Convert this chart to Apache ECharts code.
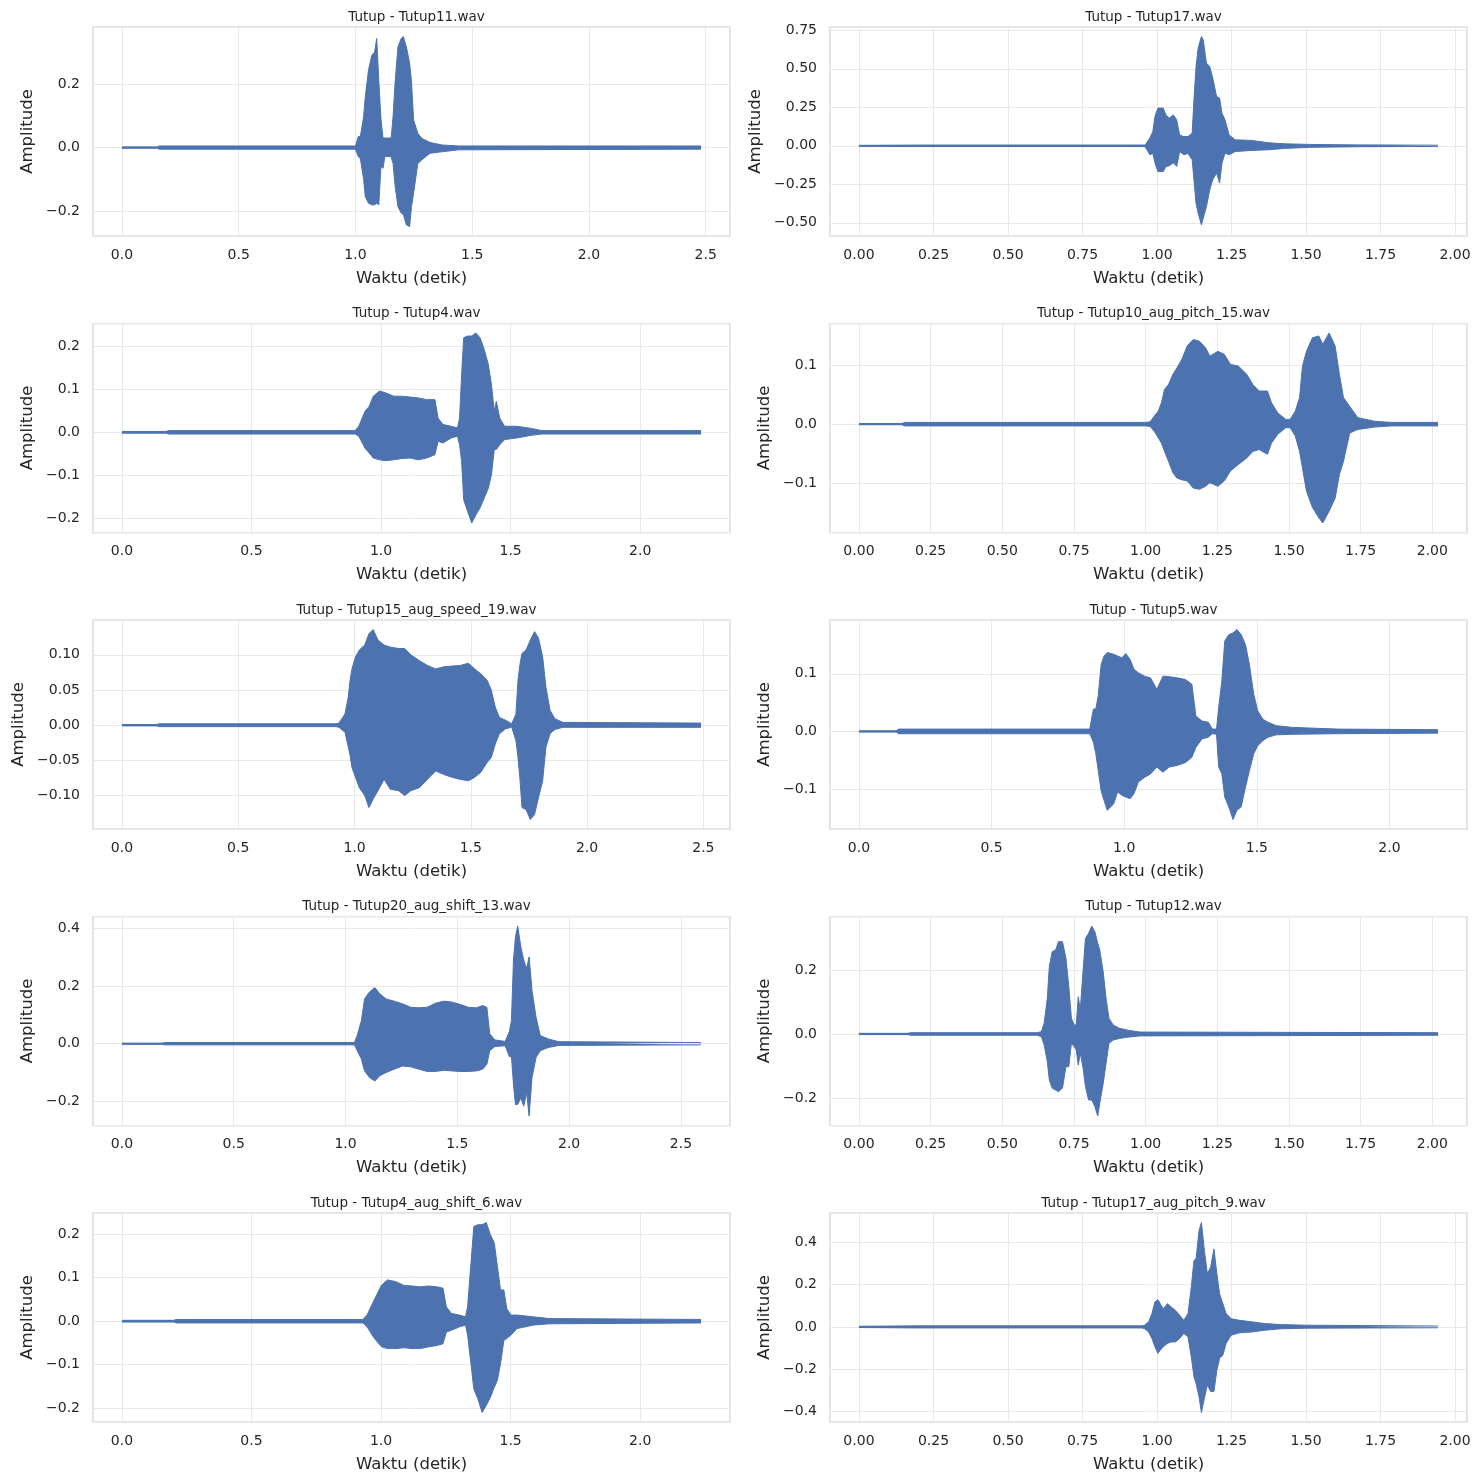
<!DOCTYPE html>
<html>
<head>
<meta charset="utf-8">
<script src="https://cdn.jsdelivr.net/npm/echarts@6/dist/echarts.min.js"></script>
<style>
html, body { margin: 0; padding: 0; background: #ffffff; }
#main { width: 1481px; height: 1483px; }
</style>
</head>
<body>
<div id="main"></div>
<script>
/* Tutup - bentuk gelombang 10 file (selubung atas / bawah) */

var fileNames = ['Tutup11.wav', 'Tutup17.wav', 'Tutup4.wav', 'Tutup10_aug_pitch_15.wav', 'Tutup15_aug_speed_19.wav',
	'Tutup5.wav', 'Tutup20_aug_shift_13.wav', 'Tutup12.wav', 'Tutup4_aug_shift_6.wav', 'Tutup17_aug_pitch_9.wav'];
var xTickSteps = [0.5, 0.25, 0.5, 0.25, 0.5, 0.5, 0.5, 0.25, 0.5, 0.25];
var yTickSteps = [0.2, 0.25, 0.1, 0.1, 0.05, 0.1, 0.2, 0.2, 0.1, 0.2];

// Tutup11.wav
var t_tutup11 = [0, 0.15, 0.16, 1.00, 1.012, 1.021, 1.035, 1.042, 1.056, 1.070, 1.082, 1.091, 1.100, 1.109, 1.118, 1.126, 1.144, 1.153, 1.161, 1.170, 1.182, 1.196, 1.205, 1.218, 1.232, 1.240, 1.249, 1.267, 1.284, 1.319, 1.372, 1.442, 2.48];
var hi_tutup11 = [0.002, 0.002, 0.005, 0.005, 0.035, 0.035, 0.097, 0.16, 0.244, 0.29, 0.30, 0.343, 0.21, 0.092, 0.03, 0.03, 0.03, 0.03, 0.097, 0.207, 0.317, 0.343, 0.349, 0.317, 0.265, 0.207, 0.087, 0.045, 0.029, 0.016, 0.008, 0.005, 0.005];
var lo_tutup11 = [-0.002, -0.002, -0.005, -0.005, -0.028, -0.035, -0.10, -0.154, -0.175, -0.18, -0.18, -0.175, -0.18, -0.06, -0.065, -0.028, -0.028, -0.03, -0.05, -0.122, -0.185, -0.206, -0.21, -0.243, -0.248, -0.185, -0.143, -0.05, -0.039, -0.018, -0.013, -0.007, -0.005];

// Tutup17.wav
var t_tutup17 = [0, 0.20, 0.96, 0.976, 0.986, 0.993, 1.003, 1.021, 1.030, 1.041, 1.055, 1.066, 1.076, 1.090, 1.104, 1.118, 1.124, 1.131, 1.138, 1.149, 1.155, 1.166, 1.177, 1.187, 1.200, 1.210, 1.218, 1.228, 1.242, 1.263, 1.318, 1.373, 1.429, 1.512, 1.678, 1.943];
var hi_tutup17 = [0.003, 0.005, 0.005, 0.05, 0.093, 0.19, 0.245, 0.245, 0.20, 0.18, 0.20, 0.17, 0.07, 0.06, 0.06, 0.082, 0.30, 0.515, 0.634, 0.71, 0.688, 0.537, 0.515, 0.44, 0.32, 0.31, 0.212, 0.17, 0.07, 0.039, 0.035, 0.02, 0.013, 0.009, 0.006, 0.004];
var lo_tutup17 = [-0.003, -0.005, -0.005, -0.058, -0.05, -0.11, -0.167, -0.167, -0.134, -0.13, -0.11, -0.134, -0.037, -0.058, -0.05, -0.09, -0.22, -0.372, -0.437, -0.513, -0.524, -0.394, -0.286, -0.22, -0.177, -0.242, -0.113, -0.048, -0.058, -0.037, -0.03, -0.026, -0.017, -0.01, -0.006, -0.004];

// Tutup4.wav
var t_tutup4 = [0, 0.17, 0.18, 0.90, 0.914, 0.938, 0.954, 0.970, 0.994, 1.017, 1.049, 1.081, 1.113, 1.144, 1.176, 1.208, 1.220, 1.239, 1.271, 1.295, 1.303, 1.311, 1.319, 1.334, 1.350, 1.366, 1.382, 1.398, 1.414, 1.426, 1.437, 1.445, 1.458, 1.477, 1.525, 1.580, 1.620, 2.235];
var hi_tutup4 = [0.002, 0.002, 0.004, 0.004, 0.014, 0.049, 0.06, 0.084, 0.096, 0.092, 0.084, 0.084, 0.082, 0.08, 0.076, 0.076, 0.033, 0.018, 0.014, 0.01, 0.033, 0.134, 0.22, 0.224, 0.224, 0.231, 0.22, 0.193, 0.158, 0.111, 0.049, 0.072, 0.033, 0.014, 0.014, 0.009, 0.004, 0.004];
var lo_tutup4 = [-0.002, -0.002, -0.004, -0.004, -0.009, -0.037, -0.048, -0.06, -0.064, -0.066, -0.064, -0.061, -0.06, -0.064, -0.06, -0.052, -0.021, -0.025, -0.013, -0.009, -0.029, -0.068, -0.157, -0.184, -0.211, -0.192, -0.176, -0.153, -0.13, -0.099, -0.04, -0.04, -0.029, -0.017, -0.013, -0.007, -0.004, -0.004];

// Tutup10_aug_pitch_15.wav
var t_tutup10p = [0, 0.15, 0.16, 1.00, 1.016, 1.030, 1.044, 1.055, 1.066, 1.080, 1.095, 1.109, 1.126, 1.145, 1.166, 1.188, 1.209, 1.224, 1.252, 1.274, 1.296, 1.324, 1.353, 1.374, 1.396, 1.425, 1.439, 1.461, 1.489, 1.504, 1.522, 1.537, 1.547, 1.561, 1.582, 1.604, 1.618, 1.640, 1.661, 1.676, 1.690, 1.712, 1.740, 1.798, 1.855, 2.02];
var hi_tutup10p = [0.001, 0.001, 0.003, 0.003, 0.004, 0.0135, 0.022, 0.036, 0.059, 0.067, 0.084, 0.095, 0.109, 0.132, 0.143, 0.14, 0.129, 0.115, 0.123, 0.118, 0.101, 0.098, 0.084, 0.067, 0.056, 0.056, 0.036, 0.019, 0.008, 0.008, 0.022, 0.045, 0.098, 0.123, 0.146, 0.149, 0.135, 0.154, 0.132, 0.084, 0.045, 0.03, 0.011, 0.005, 0.003, 0.003];
var lo_tutup10p = [-0.001, -0.001, -0.003, -0.003, -0.004, -0.012, -0.023, -0.032, -0.046, -0.063, -0.082, -0.091, -0.094, -0.096, -0.108, -0.11, -0.105, -0.099, -0.105, -0.096, -0.079, -0.068, -0.057, -0.046, -0.043, -0.051, -0.032, -0.017, -0.006, -0.006, -0.02, -0.046, -0.074, -0.113, -0.141, -0.158, -0.167, -0.147, -0.125, -0.085, -0.063, -0.015, -0.009, -0.005, -0.003, -0.003];

// Tutup15_aug_speed_19.wav
var t_tutup15s = [0, 0.15, 0.16, 0.92, 0.933, 0.959, 0.973, 0.981, 0.989, 1.004, 1.021, 1.044, 1.062, 1.080, 1.101, 1.127, 1.154, 1.189, 1.216, 1.242, 1.278, 1.313, 1.349, 1.384, 1.419, 1.455, 1.490, 1.517, 1.543, 1.570, 1.588, 1.605, 1.623, 1.650, 1.676, 1.694, 1.703, 1.712, 1.720, 1.738, 1.756, 1.774, 1.791, 1.809, 1.823, 1.841, 1.862, 1.897, 2.49];
var hi_tutup15s = [0.001, 0.001, 0.002, 0.002, 0.003, 0.016, 0.04, 0.064, 0.08, 0.097, 0.107, 0.114, 0.13, 0.136, 0.121, 0.114, 0.111, 0.109, 0.109, 0.1, 0.092, 0.085, 0.08, 0.083, 0.084, 0.085, 0.088, 0.08, 0.073, 0.064, 0.05, 0.026, 0.011, 0.007, 0.002, 0.016, 0.064, 0.088, 0.102, 0.107, 0.121, 0.133, 0.124, 0.097, 0.054, 0.021, 0.009, 0.004, 0.003];
var lo_tutup15s = [-0.001, -0.001, -0.002, -0.002, -0.003, -0.01, -0.031, -0.043, -0.06, -0.074, -0.089, -0.1, -0.117, -0.105, -0.093, -0.077, -0.091, -0.093, -0.1, -0.093, -0.089, -0.077, -0.065, -0.07, -0.074, -0.077, -0.079, -0.074, -0.067, -0.053, -0.046, -0.027, -0.012, -0.005, -0.003, -0.022, -0.046, -0.079, -0.117, -0.12, -0.134, -0.127, -0.103, -0.079, -0.031, -0.012, -0.006, -0.003, -0.003];

// Tutup5.wav
var t_tutup5 = [0, 0.14, 0.15, 0.87, 0.877, 0.884, 0.893, 0.902, 0.913, 0.924, 0.936, 0.960, 0.975, 0.991, 1.006, 1.022, 1.037, 1.053, 1.076, 1.099, 1.123, 1.146, 1.169, 1.200, 1.231, 1.255, 1.270, 1.293, 1.317, 1.332, 1.348, 1.356, 1.368, 1.379, 1.394, 1.410, 1.425, 1.441, 1.457, 1.472, 1.488, 1.503, 1.523, 1.542, 1.573, 1.635, 1.806, 2.183];
var hi_tutup5 = [0.001, 0.001, 0.004, 0.004, 0.007, 0.039, 0.039, 0.062, 0.116, 0.131, 0.137, 0.134, 0.131, 0.128, 0.135, 0.125, 0.108, 0.102, 0.096, 0.093, 0.073, 0.096, 0.095, 0.093, 0.09, 0.082, 0.027, 0.018, 0.016, 0.004, 0.004, 0.041, 0.088, 0.157, 0.168, 0.171, 0.177, 0.168, 0.151, 0.116, 0.065, 0.036, 0.021, 0.016, 0.01, 0.007, 0.004, 0.003];
var lo_tutup5 = [-0.001, -0.001, -0.004, -0.004, -0.005, -0.019, -0.039, -0.068, -0.103, -0.12, -0.137, -0.126, -0.105, -0.111, -0.114, -0.117, -0.108, -0.088, -0.08, -0.074, -0.062, -0.071, -0.062, -0.059, -0.054, -0.045, -0.028, -0.013, -0.01, -0.004, -0.005, -0.062, -0.074, -0.114, -0.131, -0.153, -0.137, -0.131, -0.097, -0.068, -0.039, -0.025, -0.016, -0.01, -0.006, -0.005, -0.004, -0.003];

// Tutup20_aug_shift_13.wav
var t_tutup20s = [0, 0.18, 0.19, 1.04, 1.052, 1.071, 1.085, 1.107, 1.131, 1.153, 1.181, 1.218, 1.255, 1.291, 1.328, 1.365, 1.402, 1.439, 1.475, 1.512, 1.549, 1.586, 1.613, 1.632, 1.645, 1.668, 1.714, 1.733, 1.742, 1.751, 1.760, 1.770, 1.784, 1.797, 1.810, 1.821, 1.834, 1.852, 1.871, 1.908, 1.954, 2.59];
var hi_tutup20s = [0.002, 0.002, 0.004, 0.004, 0.028, 0.08, 0.155, 0.179, 0.194, 0.173, 0.155, 0.147, 0.138, 0.126, 0.124, 0.126, 0.14, 0.147, 0.144, 0.136, 0.126, 0.124, 0.132, 0.126, 0.034, 0.013, 0.008, 0.043, 0.08, 0.289, 0.37, 0.407, 0.335, 0.289, 0.26, 0.3, 0.184, 0.092, 0.028, 0.016, 0.007, 0.004];
var lo_tutup20s = [-0.002, -0.002, -0.004, -0.004, -0.024, -0.053, -0.094, -0.117, -0.129, -0.111, -0.1, -0.088, -0.077, -0.08, -0.088, -0.096, -0.096, -0.092, -0.094, -0.096, -0.096, -0.094, -0.088, -0.071, -0.024, -0.01, -0.007, -0.045, -0.045, -0.14, -0.21, -0.21, -0.187, -0.216, -0.169, -0.25, -0.117, -0.048, -0.024, -0.013, -0.006, -0.004];

// Tutup12.wav
var t_tutup12 = [0, 0.17, 0.18, 0.62, 0.636, 0.646, 0.657, 0.664, 0.674, 0.686, 0.696, 0.710, 0.722, 0.732, 0.741, 0.751, 0.758, 0.765, 0.772, 0.782, 0.790, 0.801, 0.812, 0.823, 0.833, 0.840, 0.852, 0.862, 0.872, 0.887, 0.908, 0.937, 0.980, 2.02];
var hi_tutup12 = [0.002, 0.002, 0.004, 0.004, 0.007, 0.033, 0.111, 0.21, 0.257, 0.262, 0.288, 0.288, 0.236, 0.148, 0.049, 0.028, 0.028, 0.116, 0.075, 0.2, 0.298, 0.314, 0.337, 0.319, 0.283, 0.262, 0.194, 0.111, 0.049, 0.028, 0.018, 0.012, 0.006, 0.004];
var lo_tutup12 = [-0.002, -0.002, -0.004, -0.004, -0.008, -0.034, -0.086, -0.143, -0.169, -0.175, -0.18, -0.169, -0.102, -0.102, -0.029, -0.04, -0.05, -0.097, -0.06, -0.107, -0.164, -0.206, -0.206, -0.227, -0.256, -0.216, -0.154, -0.091, -0.029, -0.019, -0.014, -0.01, -0.006, -0.004];

// Tutup4_aug_shift_6.wav
var t_tutup4s = [0, 0.20, 0.21, 0.93, 0.946, 0.970, 0.986, 1.002, 1.025, 1.057, 1.089, 1.120, 1.152, 1.184, 1.215, 1.239, 1.252, 1.271, 1.303, 1.326, 1.334, 1.347, 1.358, 1.374, 1.390, 1.406, 1.422, 1.437, 1.449, 1.461, 1.474, 1.485, 1.501, 1.525, 1.588, 1.651, 2.235];
var hi_tutup4s = [0.002, 0.002, 0.004, 0.004, 0.014, 0.045, 0.064, 0.083, 0.095, 0.091, 0.082, 0.081, 0.079, 0.081, 0.079, 0.076, 0.033, 0.018, 0.014, 0.01, 0.033, 0.133, 0.218, 0.222, 0.222, 0.227, 0.199, 0.18, 0.126, 0.072, 0.072, 0.029, 0.014, 0.014, 0.01, 0.006, 0.004];
var lo_tutup4s = [-0.002, -0.002, -0.004, -0.004, -0.013, -0.036, -0.048, -0.059, -0.063, -0.063, -0.061, -0.063, -0.063, -0.059, -0.056, -0.052, -0.025, -0.021, -0.013, -0.009, -0.032, -0.098, -0.156, -0.179, -0.21, -0.194, -0.175, -0.152, -0.136, -0.098, -0.044, -0.04, -0.032, -0.017, -0.009, -0.006, -0.004];

// Tutup17_aug_pitch_9.wav
var t_tutup17p = [0, 0.20, 0.95, 0.958, 0.972, 0.983, 0.993, 1.003, 1.011, 1.021, 1.035, 1.048, 1.062, 1.076, 1.090, 1.104, 1.115, 1.124, 1.131, 1.141, 1.149, 1.159, 1.169, 1.180, 1.191, 1.201, 1.210, 1.221, 1.232, 1.249, 1.277, 1.318, 1.360, 1.415, 1.498, 1.943];
var hi_tutup17p = [0.003, 0.005, 0.005, 0.008, 0.024, 0.063, 0.118, 0.129, 0.11, 0.086, 0.11, 0.094, 0.078, 0.055, 0.031, 0.063, 0.188, 0.314, 0.322, 0.455, 0.494, 0.361, 0.251, 0.282, 0.369, 0.251, 0.157, 0.11, 0.063, 0.039, 0.031, 0.024, 0.016, 0.011, 0.008, 0.004];
var lo_tutup17p = [-0.003, -0.005, -0.005, -0.008, -0.024, -0.055, -0.094, -0.125, -0.11, -0.094, -0.078, -0.071, -0.071, -0.055, -0.031, -0.047, -0.141, -0.235, -0.267, -0.33, -0.405, -0.337, -0.275, -0.306, -0.306, -0.204, -0.149, -0.133, -0.078, -0.039, -0.028, -0.024, -0.016, -0.009, -0.006, -0.004];

var waveTimes = [t_tutup11, t_tutup17, t_tutup4, t_tutup10p, t_tutup15s, t_tutup5, t_tutup20s, t_tutup12, t_tutup4s, t_tutup17p];
var waveHigh = [hi_tutup11, hi_tutup17, hi_tutup4, hi_tutup10p, hi_tutup15s, hi_tutup5, hi_tutup20s, hi_tutup12, hi_tutup4s, hi_tutup17p];
var waveLow = [lo_tutup11, lo_tutup17, lo_tutup4, lo_tutup10p, lo_tutup15s, lo_tutup5, lo_tutup20s, lo_tutup12, lo_tutup4s, lo_tutup17p];

var LINE_COLOR = '#4c72b0';
var TEXT_COLOR = '#262626';
var FONT = 'DejaVu Sans';

var colLeft = [93, 830];
var rowTop = [27, 323.5, 620, 916.5, 1213];
var plotW = 637;
var plotH = 209;

function decimalsOf(step) {
	return Math.abs(Math.round(step * 10) - step * 10) < 1e-9 ? 1 : 2;
}

function tickFormatter(dec) {
	return function (v) {
		var s = Math.abs(v).toFixed(dec);
		return (v < -1e-12 ? '\u2212' : '') + s;
	};
}

function buildOption() {
	var grids = [], xAxes = [], yAxes = [], series = [], titles = [];
	for (var i = 0; i < fileNames.length; i++) {
		var left = colLeft[i % 2];
		var top = rowTop[Math.floor(i / 2)];
		var t = waveTimes[i], hi = waveHigh[i], lo = waveLow[i];

		// batas sumbu gaya matplotlib: 5% margin
		var tMin = t[0], tMax = t[t.length - 1];
		var yMax = Math.max.apply(null, hi), yMin = Math.min.apply(null, lo);
		var dx = (tMax - tMin) * 0.05, dy = (yMax - yMin) * 0.05;
		var xd = decimalsOf(xTickSteps[i]);
		var yd = decimalsOf(yTickSteps[i]);
		// sedikit tumpang tindih supaya tidak ada garis putih di nol
		var eps = (yMax - yMin) * 0.004;

		grids.push({
			left: left, top: top, width: plotW, height: plotH,
			show: true, borderColor: '#cccccc', borderWidth: 1.25, backgroundColor: '#ffffff'
		});
		titles.push({
			text: 'Tutup - ' + fileNames[i],
			left: left + plotW / 2, top: top - 22, textAlign: 'center',
			textStyle: { fontFamily: FONT, fontSize: 13.5, fontWeight: 'normal', color: TEXT_COLOR }
		});
		xAxes.push({
			type: 'value', gridIndex: i,
			min: tMin - dx, max: tMax + dx,
			minInterval: xTickSteps[i], maxInterval: xTickSteps[i],
			name: 'Waktu (detik)', nameLocation: 'middle', nameGap: 34,
			nameTextStyle: { fontFamily: FONT, fontSize: 16.5, color: TEXT_COLOR },
			axisLine: { show: false }, axisTick: { show: false },
			splitLine: { show: true, lineStyle: { color: '#e8e8e8', width: 1 } },
			axisLabel: {
				fontFamily: FONT, fontSize: 14, color: TEXT_COLOR, margin: 12,
				showMinLabel: false, showMaxLabel: false, formatter: tickFormatter(xd)
			}
		});
		yAxes.push({
			type: 'value', gridIndex: i,
			min: yMin - dy, max: yMax + dy,
			minInterval: yTickSteps[i], maxInterval: yTickSteps[i],
			name: 'Amplitude', nameLocation: 'middle', nameGap: yd === 1 ? 57 : 66,
			nameTextStyle: { fontFamily: FONT, fontSize: 16.5, color: TEXT_COLOR },
			axisLine: { show: false }, axisTick: { show: false },
			splitLine: { show: true, lineStyle: { color: '#e8e8e8', width: 1 } },
			axisLabel: {
				fontFamily: FONT, fontSize: 14, color: TEXT_COLOR, margin: 13,
				showMinLabel: false, showMaxLabel: false, formatter: tickFormatter(yd)
			}
		});

		var upper = [], lower = [];
		for (var k = 0; k < t.length; k++) {
			upper.push([t[k], hi[k]]);
			lower.push([t[k], lo[k]]);
		}
		series.push({
			type: 'line', xAxisIndex: i, yAxisIndex: i, data: upper,
			symbol: 'none', silent: true,
			lineStyle: { color: LINE_COLOR, width: 1 },
			areaStyle: { color: LINE_COLOR, opacity: 1, origin: -eps }
		});
		series.push({
			type: 'line', xAxisIndex: i, yAxisIndex: i, data: lower,
			symbol: 'none', silent: true,
			lineStyle: { color: LINE_COLOR, width: 1 },
			areaStyle: { color: LINE_COLOR, opacity: 1, origin: eps }
		});
	}
	return {
		animation: false,
		backgroundColor: '#ffffff',
		title: titles,
		grid: grids,
		xAxis: xAxes,
		yAxis: yAxes,
		series: series
	};
}

var chart = echarts.init(document.getElementById('main'));
chart.setOption(buildOption());
</script>
</body>
</html>
